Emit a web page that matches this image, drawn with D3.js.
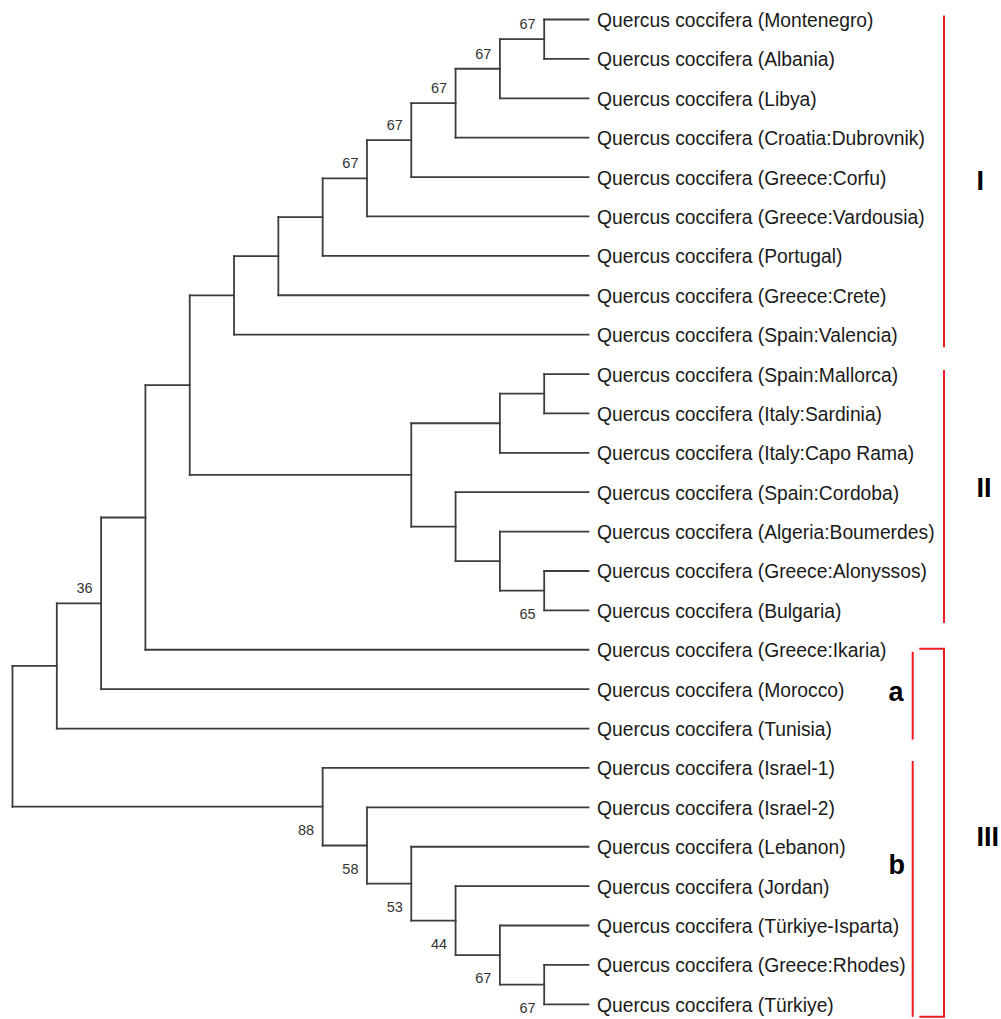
<!DOCTYPE html>
<html>
<head>
<meta charset="utf-8">
<script src="https://cdn.jsdelivr.net/npm/d3@7/dist/d3.min.js"></script>
<style>
  html, body { margin: 0; padding: 0; background: #fff; }
  svg { display: block; }
</style>
</head>
<body>
<div id="chart"></div>
<script>
// ---- Data ----
const leafNames = [
  "Quercus coccifera (Montenegro)",
  "Quercus coccifera (Albania)",
  "Quercus coccifera (Libya)",
  "Quercus coccifera (Croatia:Dubrovnik)",
  "Quercus coccifera (Greece:Corfu)",
  "Quercus coccifera (Greece:Vardousia)",
  "Quercus coccifera (Portugal)",
  "Quercus coccifera (Greece:Crete)",
  "Quercus coccifera (Spain:Valencia)",
  "Quercus coccifera (Spain:Mallorca)",
  "Quercus coccifera (Italy:Sardinia)",
  "Quercus coccifera (Italy:Capo Rama)",
  "Quercus coccifera (Spain:Cordoba)",
  "Quercus coccifera (Algeria:Boumerdes)",
  "Quercus coccifera (Greece:Alonyssos)",
  "Quercus coccifera (Bulgaria)",
  "Quercus coccifera (Greece:Ikaria)",
  "Quercus coccifera (Morocco)",
  "Quercus coccifera (Tunisia)",
  "Quercus coccifera (Israel-1)",
  "Quercus coccifera (Israel-2)",
  "Quercus coccifera (Lebanon)",
  "Quercus coccifera (Jordan)",
  "Quercus coccifera (Türkiye-Isparta)",
  "Quercus coccifera (Greece:Rhodes)",
  "Quercus coccifera (Türkiye)"
];

// tree topology, leaves referenced by index into leafNames
const topology = [
  [
    [
      [
        [
          [[[[[[[[0, 1], 2], 3], 4], 5], 6], 7], 8],
          [[[9, 10], 11], [12, [13, [14, 15]]]]
        ],
        16
      ],
      17
    ],
    18
  ],
  [19, [20, [21, [22, [23, [24, 25]]]]]]
];

// bootstrap support: node identified by its leaf range [first, last]
const bootstrapNodes = [[0,1],[0,2],[0,3],[0,4],[0,5],[14,15],[0,17],[19,25],[20,25],[21,25],[22,25],[23,25],[24,25]];
const bootstrapValues = [67, 67, 67, 67, 67, 65, 36, 88, 58, 53, 44, 67, 67];

// clade brackets (leaf ranges) and their labels
const cladeLabels = ["I", "II", "III"];
const cladeRanges = [[0, 8], [9, 15], [16, 25]];
const cladeLabelAt = [4.33, 12.11, 20.98];
const subcladeLabels = ["a", "b"];
const subcladeRanges = [[16, 18], [19, 25]];
const subcladeLabelAt = [17.29, 21.69];

// ---- Layout ----
const W = 1001, H = 1019;
const svg = d3.select("#chart").append("svg").attr("width", W).attr("height", H);

const root = d3.hierarchy(topology, d => Array.isArray(d) ? d : null);
const yScale = d3.scaleLinear().domain([0, leafNames.length - 1]).range([19.5, 1004.3]);
const xScale = d3.scaleLinear().domain([root.height, 0]).range([12.5, 588.5]);

root.eachAfter(n => {
  if (!n.children) {
    n.py = yScale(n.data);
    n.lo = n.hi = n.data;
  } else {
    const f = n.children[0], l = n.children[n.children.length - 1];
    n.py = (f.py + l.py) / 2;
    n.lo = f.lo; n.hi = l.hi;
  }
  n.px = xScale(n.height);
});

const branchColor = "#3d3d3d";
const gTree = svg.append("g")
  .attr("fill", "none")
  .attr("stroke", branchColor)
  .attr("stroke-width", 1.8)
  .attr("stroke-linecap", "square");

const internals = root.descendants().filter(n => n.children);
// vertical connectors
gTree.selectAll("line.v").data(internals).join("line")
  .attr("class", "v")
  .attr("x1", d => d.px).attr("x2", d => d.px)
  .attr("y1", d => d.children[0].py)
  .attr("y2", d => d.children[d.children.length - 1].py);
// horizontal branches
gTree.selectAll("line.h").data(root.descendants().filter(n => n.parent)).join("line")
  .attr("class", "h")
  .attr("x1", d => d.parent.px).attr("x2", d => d.px)
  .attr("y1", d => d.py).attr("y2", d => d.py);

// leaf labels
svg.append("g").selectAll("text").data(root.leaves()).join("text")
  .attr("x", d => d.px + 8.5)
  .attr("y", d => d.py + 7.5)
  .attr("font-family", "'Liberation Sans', Arial, sans-serif")
  .attr("font-size", 19.3)
  .attr("fill", "#1a1a1a")
  .text(d => leafNames[d.data]);

// bootstrap labels
const bsData = bootstrapNodes.map((r, i) => {
  const node = internals.find(n => n.lo === r[0] && n.hi === r[1]);
  const below = node.parent && node.parent.children.indexOf(node) > 0;
  return { node, value: bootstrapValues[i], below };
});
svg.append("g").selectAll("text").data(bsData).join("text")
  .attr("x", d => d.node.px - 8.5)
  .attr("y", d => d.below ? d.node.py + 28 : d.node.py - 10)
  .attr("text-anchor", "end")
  .attr("font-family", "'Liberation Sans', Arial, sans-serif")
  .attr("font-size", 14.5)
  .attr("fill", "#333")
  .text(d => d.value);

// ---- Clade brackets ----
const red = "#ec1c24";
const gBr = svg.append("g").attr("fill", "none").attr("stroke", red).attr("stroke-width", 2);
const mainX = 944, subX = 912.7, capX = 919.3;

// clade I and II: plain vertical lines; clade III: bracket with caps
cladeRanges.forEach((r, i) => {
  const top = yScale(r[0]) - 4, bot = yScale(r[1]) + 12.5;
  if (i === 2) {
    gBr.append("path").attr("d", `M${capX},${top + 3}H${mainX}V${bot}H${capX}`);
  } else {
    gBr.append("line").attr("x1", mainX).attr("x2", mainX).attr("y1", top).attr("y2", bot);
  }
});
subcladeRanges.forEach((r, i) => {
  const top = yScale(r[0]) + (i === 0 ? 2 : -7), bot = yScale(r[1]) + (i === 0 ? 11 : 12.5);
  gBr.append("line").attr("x1", subX).attr("x2", subX).attr("y1", top).attr("y2", bot);
});

svg.append("g").selectAll("text").data(cladeLabels).join("text")
  .attr("x", 976.5)
  .attr("y", (d, i) => yScale(cladeLabelAt[i]))
  .attr("font-family", "'Liberation Sans', Arial, sans-serif")
  .attr("font-weight", "bold")
  .attr("font-size", 27)
  .attr("fill", "#000")
  .text(d => d);

svg.append("g").selectAll("text").data(subcladeLabels).join("text")
  .attr("x", 888.5)
  .attr("y", (d, i) => yScale(subcladeLabelAt[i]))
  .attr("font-family", "'Liberation Sans', Arial, sans-serif")
  .attr("font-weight", "bold")
  .attr("font-size", 27)
  .attr("fill", "#000")
  .text(d => d);
</script>
</body>
</html>
